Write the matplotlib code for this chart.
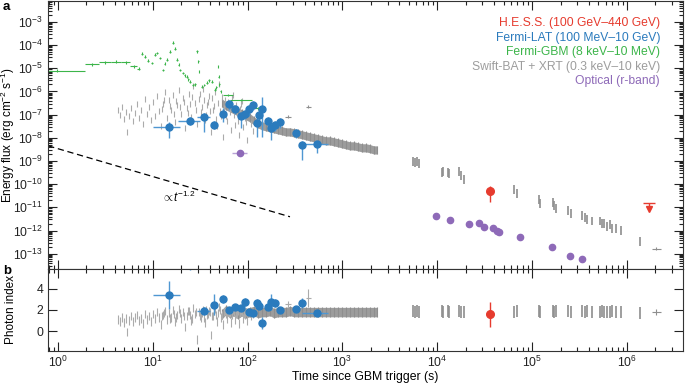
import numpy as np
import matplotlib
matplotlib.use("Agg")
import matplotlib.pyplot as plt
from matplotlib.ticker import LogLocator, NullFormatter

plt.rcParams['font.family'] = ['Liberation Sans', 'DejaVu Sans']
plt.rcParams['mathtext.fontset'] = 'custom'
plt.rcParams['mathtext.rm'] = 'Liberation Sans'
plt.rcParams['mathtext.it'] = 'Liberation Sans:italic'
plt.rcParams['mathtext.bf'] = 'Liberation Sans:bold'
plt.rcParams['axes.linewidth'] = 0.8

# ---- Fermi-LAT (energy flux + photon index) ----
lat_t = [14.8, 24.7, 34.7, 44.2, 55.0, 63.7, 73.6, 85.2, 93.9, 103.5,
         114, 126, 132, 142, 164, 177, 195, 220, 324, 375, 540]
lat_t_lo = [10.0, 18.5, 29.3, 42, 53, 62, 71, 83, 91, 100,
            111, 122, 129, 139, 160, 173, 190, 215, 316, 368, 375]
lat_t_hi = [19.4, 31.5, 40.1, 46, 57, 65, 76, 87, 96, 106,
            117, 129, 135, 145, 168, 181, 199, 225, 332, 382, 705]
lat_f = [2.98e-8, 5.4e-8, 8.0e-8, 3.6e-8, 1.08e-7, 2.9e-7, 1.78e-7, 8.9e-8, 1.08e-7, 1.78e-7,
         2.64e-7, 4.4e-8, 9.8e-8, 1.78e-7, 5.4e-8, 2.7e-8, 3.6e-8, 4.9e-8, 1.64e-8, 5.0e-9, 5.5e-9]
lat_f_hi = [4.9e-8, 8.0e-8, 1.2e-7, 5.4e-8, 1.9e-7, 4.4e-7, 2.64e-7, 1.3e-7, 1.6e-7, 2.64e-7,
            3.9e-7, 7.2e-8, 1.46e-7, 5.9e-7, 8.0e-8, 4.4e-8, 5.4e-8, 7.2e-8, 2.4e-8, 7.5e-9, 7.5e-9]
lat_f_lo = [1.0e-8, 3.6e-8, 1.8e-8, 2.4e-8, 4.9e-8, 1.6e-7, 1.08e-7, 2.7e-8, 6.6e-8, 8.9e-8,
            1.6e-7, 1.1e-8, 5.4e-8, 1.1e-8, 3.3e-8, 8.2e-9, 2.0e-8, 2.7e-8, 1.0e-8, 1.1e-9, 2.2e-9]
lat_index = [3.43, 6.4, 1.95, 2.48, 3.05, 2.0, 2.3, 2.2, 2.76, 1.8,
             1.7, 2.67, 2.38, 0.76, 2.3, 2.76, 2.67, 2.0, 2.1, 2.67, 1.71]
lat_index_err = [1.3, 0.6, 0.35, 1.0, 0.4, 0.3, 0.3, 0.3, 0.4, 0.3,
                 0.3, 0.4, 0.3, 0.55, 0.3, 0.8, 0.4, 0.3, 0.3, 0.5, 0.25]

# ---- Fermi-GBM energy flux (time bins) ----
gbm_t_start = [0.5, 1.93, 2.7, 3.6, 4.6, 5.8, 6.8, 7.5, 8.1, 8.7,
               9.5, 10.2, 10.9, 11.6, 12.5, 13.1, 13.8, 14.9, 16.0, 16.8,
               17.7, 18.5, 19.1, 20.5, 21.5, 22.5, 23.5, 24.3, 26.2, 27.5,
               28.9, 29.7, 30.4, 32.5, 34.5, 36.7, 38.5, 41.0, 44.7, 46.5,
               48.2, 49.2, 50.0, 51.5, 55.0, 65.2, 113]
gbm_t_end = [1.93, 2.7, 3.6, 4.6, 5.8, 6.8, 7.4, 7.9, 8.5, 9.1,
             10.0, 10.7, 11.3, 12.1, 13.0, 13.6, 14.4, 15.5, 16.6, 17.4,
             18.3, 19.0, 19.7, 21.1, 22.1, 23.3, 24.1, 25.1, 27.0, 28.3,
             29.7, 30.4, 31.1, 33.5, 35.5, 37.9, 39.7, 43.2, 45.9, 47.5,
             49.2, 50.0, 50.8, 53.0, 70.2, 111, 145]
gbm_f = [7.8e-6, 1.5e-5, 1.8e-5, 1.95e-5, 1.8e-5, 1.2e-5, 9.5e-6, 4.2e-5, 3.1e-5, 2.1e-5,
         1.7e-5, 3.8e-5, 4.6e-5, 2.8e-5, 8.5e-6, 1.6e-5, 2.3e-5, 5.1e-5, 1.25e-4, 6.9e-5,
         2.3e-5, 1.4e-5, 8.5e-6, 6.3e-6, 5.0e-6, 4.3e-6, 3.4e-6, 2.6e-6, 1.9e-6, 2.0e-6,
         5.5e-5, 2.0e-5, 7.0e-6, 1.6e-6, 1.9e-6, 2.35e-6, 3.0e-6, 2.6e-6, 1.2e-6, 1.5e-6,
         1.15e-5, 4.3e-6, 2.0e-6, 1.0e-6, 7.1e-7, 4.3e-7, 1.85e-7]

# ---- Swift-BAT (early, scattered) ----
bat_t = [4.3, 4.5, 4.7, 5.0, 5.2, 5.35, 5.6, 5.9, 6.2, 6.5,
         6.8, 7.15, 7.5, 7.9, 8.3, 8.7, 9.1, 9.6, 10.0, 10.5,
         11.1, 11.6, 12.2, 12.8, 13.5, 14.1, 14.8, 15.6, 16.3, 17.1,
         18.0, 18.9, 19.8, 20.8, 21.9, 22.9, 24.1, 25.3, 26.6, 27.9,
         29.3, 30.7, 32.2, 33.9, 35.5, 37.3, 39.2, 41.1, 43.2, 45.3,
         47.6, 49.9, 52.4, 55.0, 57.8, 60.6, 63.6, 66.8, 70.2, 73.6,
         77.3, 81.2, 85.2, 89.4, 93.9, 98.6, 103, 109, 114]
bat_f = [1.6e-7, 9.8e-8, 2.2e-7, 6.6e-8, 1.3e-7, 1.8e-8, 8.9e-8, 2.0e-7, 5.4e-8, 1.2e-7,
         2.9e-7, 7.3e-8, 1.6e-7, 4.0e-8, 4.8e-7, 1.08e-7, 2.2e-7, 6.0e-8, 3.6e-7, 8.9e-8,
         6.5e-7, 1.46e-7, 3.3e-8, 2.9e-7, 9.6e-7, 7.3e-8, 4.3e-7, 1.6e-7, 7.1e-7, 4.9e-8,
         2.6e-7, 1.17e-6, 1.08e-7, 5.3e-7, 2.7e-8, 1.96e-7, 7.9e-7, 8.0e-8, 1.74e-6, 3.2e-7,
         4.0e-8, 4.8e-7, 1.32e-7, 1.3e-6, 6.0e-8, 2.6e-7, 6.5e-7, 1.8e-8, 1.6e-7, 9.6e-7,
         3.3e-8, 2.1e-6, 8.9e-8, 1.1e-8, 4.3e-7, 5.4e-8, 1.96e-7, 2.2e-8, 7.1e-7, 3.6e-8,
         1.2e-7, 1.35e-8, 2.9e-7, 3.0e-8, 7.3e-8, 8.2e-9, 1.61e-7, 4.0e-8, 2.0e-8]
bat_index = [1.1, 0.9, 1.3, 0.8, 1.2, -0.1, 1.0, 1.4, 0.9, 1.3,
             1.5, 1.0, 1.2, 0.7, 1.6, 1.1, 1.4, 0.9, 1.6, 1.2,
             1.8, 1.3, 0.6, 1.5, 1.9, 1.1, 1.7, 1.3, 2.0, 0.9,
             1.5, 2.1, 1.2, 1.8, 0.4, 1.4, 1.9, 1.0, 2.2, 1.6,
             -0.8, 1.8, 1.3, 2.0, 0.8, 1.5, 1.9, -0.4, 1.4, 2.1,
             0.9, 2.3, 1.3, 0.6, 1.9, 1.2, 1.7, 0.8, 2.0, 1.1,
             1.6, 0.7, 1.9, 1.2, 1.5, 1.0, 1.8, 1.4, 1.6]
bat2_t = [12.5, 13.1, 15.2, 16.8, 17.5, 19.3, 21.3, 23.5, 24.7, 26.0,
          28.6, 31.4, 33.0, 34.7, 36.4, 38.2, 40.1, 42.1, 44.2, 46.4,
          48.7, 51.2, 53.7, 56.4, 59.2, 62.1, 65.2, 68.5, 71.9, 75.5,
          79.2, 83.2, 87.3, 91.6, 96.2]
bat2_f = [1.8e-7, 4.4e-7, 2.4e-7, 1.1e-7, 4.0e-7, 2.2e-7, 3.6e-7, 1.2e-7, 3.0e-7, 6.0e-7,
          1.6e-7, 8.0e-7, 2.2e-7, 4.4e-7, 1.0e-7, 3.6e-7, 1.5e-7, 5.4e-7, 2.4e-7, 6.6e-8,
          3.3e-7, 1.4e-7, 6.0e-7, 2.0e-7, 9.0e-8, 3.6e-7, 1.3e-7, 5.0e-7, 9.6e-8, 2.7e-7,
          5.4e-8, 1.8e-7, 4.0e-7, 1.1e-7, 5.0e-8]
bat2_index = [1.4, 1.7, 1.2, 1.6, 1.3, 1.7, 1.4, 1.9, 1.5, 1.2,
              1.8, 1.4, 1.7, 1.3, 2.0, 1.6, 1.8, 1.4, 1.9, 1.5,
              1.7, 2.0, 1.5, 1.8, 1.6, 1.9, 1.7, 1.5, 1.8, 1.6,
              1.9, 1.7, 1.8, 1.6, 1.8]

# ---- Swift-XRT (continuous early band) ----
xrt_t = [53.7, 59.2, 65.2, 71.9, 79.2, 87.3, 96.2, 106, 117, 129,
         142, 156, 172, 190, 209, 231, 254, 280, 309, 340,
         375, 413, 455, 502, 553, 609, 671, 740, 815, 899,
         991, 1091, 1202, 1325, 1461, 1610, 1774, 1955, 2154, 2317]
xrt_f = [3.2e-7, 2.4e-7, 1.96e-7, 1.61e-7, 1.32e-7, 1.08e-7, 8.9e-8, 7.3e-8, 5.4e-8, 4.0e-8,
         3.3e-8, 3.0e-8, 2.7e-8, 2.44e-8, 2.2e-8, 2.0e-8, 1.8e-8, 1.8e-8, 1.64e-8, 1.49e-8,
         1.35e-8, 1.22e-8, 1.1e-8, 1.0e-8, 9.1e-9, 8.2e-9, 7.4e-9, 7.4e-9, 6.7e-9, 6.1e-9,
         5.5e-9, 5.0e-9, 4.5e-9, 4.5e-9, 4.1e-9, 3.7e-9, 3.7e-9, 3.4e-9, 3.0e-9, 3.0e-9]
xrt_index = [1.6, 2.0, 1.7, 1.9, 1.6, 1.9, 1.7, 1.8, 1.9, 1.7,
             1.8, 1.8, 1.9, 1.7, 1.8, 1.8, 1.8, 1.9, 1.8, 1.8,
             1.8, 1.8, 1.8, 1.8, 1.8, 1.8, 1.8, 1.8, 1.8, 1.8,
             1.8, 1.8, 1.8, 1.8, 1.8, 1.8, 1.8, 1.8, 1.8, 1.8]

# ---- Swift-XRT (late orbits) ----
late_t = [5.5e3, 5.8e3, 6.1e3, 6.4e3, 1.12e4, 1.16e4, 1.3e4, 1.34e4, 1.7e4, 1.8e4,
          1.9e4, 6.5e4, 6.9e4, 1.18e5, 1.22e5, 1.65e5, 1.72e5, 1.8e5, 2.4e5, 2.6e5,
          3.4e5, 3.6e5, 3.8e5, 4.3e5, 5.2e5, 5.4e5, 5.8e5, 6.2e5, 6.6e5, 6.9e5,
          7.7e5, 8.7e5, 1.38e6]
late_f = [9.5e-10, 8.5e-10, 9.2e-10, 8.0e-10, 3.1e-10, 3.4e-10, 3.1e-10, 2.9e-10, 3.4e-10, 2.3e-10,
          1.55e-10, 5.7e-11, 3.9e-11, 2.1e-11, 1.43e-11, 1.58e-11, 1.17e-11, 8.7e-12, 7.1e-12, 5.3e-12,
          4.3e-12, 3.6e-12, 2.9e-12, 2.6e-12, 2.6e-12, 1.96e-12, 1.96e-12, 1.46e-12, 1.78e-12, 1.2e-12,
          1.2e-12, 9.8e-13, 3.3e-13]
late_index = [1.9, 1.8, 1.9, 1.8, 1.9, 1.8, 1.9, 1.8, 1.9, 1.8,
              1.8, 1.8, 1.9, 1.9, 1.8, 1.9, 1.8, 1.9, 1.9, 1.8,
              1.9, 1.8, 1.9, 1.8, 1.8, 1.9, 1.8, 1.8, 1.8, 1.9,
              1.8, 1.8, 1.7]

# isolated Swift points drawn as crosses
plus_t = [270, 434, 2.04e6]
plus_t_lo = [250, 413, 1.85e6]
plus_t_hi = [290, 470, 2.3e6]
plus_f = [8.1e-8, 2.2e-7, 1.64e-13]
plus_index = [2.57, 3.1, 1.8]
plus_index_err = [0.25, 0.85, 0.3]

# ---- Optical r-band ----
opt_t = [83, 9.7e3, 1.36e4, 2.16e4, 2.76e4, 3.1e4, 3.88e4, 4.27e4, 4.5e4, 7.5e4, 1.62e5, 2.5e5, 3.37e5]
opt_f = [2.2e-9, 4.4e-12, 2.9e-12, 1.96e-12, 2.2e-12, 1.45e-12, 1.3e-12, 1.0e-12, 8.9e-13,
         5.4e-13, 2.0e-13, 8.2e-14, 6.0e-14]

# ---- H.E.S.S. ----
hess_t = [3.6e4]
hess_f = [5.2e-11]
hess_f_lo = [1.7e-11]
hess_f_hi = [8.5e-11]
hess_index = [1.6]
hess_index_lo = [0.38]
hess_index_hi = [2.76]
hess_ul_t = [1.71e6]
hess_ul_f = [1.6e-11]

# power-law guide  F ~ t^-1.2
pl_t = np.array([0.79, 280])
pl_norm = 3.4e-9
pl_slope = -1.2

RED = '#e63b2e'
BLUE = '#2b7bbd'
BLUE_E = '#4f97d2'
GREEN = '#3cb54a'
GREY = '#8e8e8e'
GREY_L = '#ababab'
PURPLE = '#8e6ab8'

fig = plt.figure(figsize=(6.85, 3.83), dpi=100)
ax = fig.add_axes([0.070, 0.2977, 0.927, 0.6997])
axb = fig.add_axes([0.070, 0.0836, 0.927, 0.2141], sharex=ax)


def ferr(f, fac):
    f = np.asarray(f)
    return [f - f / fac, f * fac - f]


# --- panel a ---
ax.fill_between(xrt_t, np.array(xrt_f) / 1.5, np.array(xrt_f) * 1.5, color='#9c9c9c', lw=0)
ax.errorbar(xrt_t, xrt_f, yerr=ferr(xrt_f, 1.55), fmt='none', ecolor=GREY, elinewidth=0.8)
ax.errorbar(bat_t, bat_f, yerr=ferr(bat_f, 1.35), fmt='none', ecolor=GREY_L, elinewidth=0.8)
ax.errorbar(bat2_t, bat2_f, yerr=ferr(bat2_f, 1.35), fmt='none', ecolor=GREY_L, elinewidth=0.8)
ax.errorbar(late_t, late_f, yerr=ferr(late_f, 1.55), fmt='none', ecolor=GREY, elinewidth=1.2)
p_t = np.array(plus_t)
ax.errorbar(plus_t, plus_f, xerr=[p_t - plus_t_lo, np.array(plus_t_hi) - p_t],
            yerr=ferr(plus_f, 1.15), fmt='none', ecolor=GREY, elinewidth=0.8)

g0 = np.array(gbm_t_start)
g1 = np.array(gbm_t_end)
gc = np.sqrt(g0 * g1)
ax.errorbar(gc, gbm_f, xerr=[gc - g0, g1 - gc], yerr=ferr(gbm_f, 1.15),
            fmt='none', ecolor=GREEN, elinewidth=0.8)

lt = np.array(lat_t)
lf = np.array(lat_f)
ax.errorbar(lat_t, lat_f, xerr=[lt - lat_t_lo, np.array(lat_t_hi) - lt],
            yerr=[lf - lat_f_lo, np.array(lat_f_hi) - lf], fmt='o', ms=5,
            color=BLUE, ecolor=BLUE_E, elinewidth=1, capsize=0)

ax.errorbar(opt_t[:1], opt_f[:1], xerr=[[83 - 68], [99 - 83]], fmt='o', ms=4.5,
            color=PURPLE, ecolor='#b8a3d6', elinewidth=1)
ax.plot(opt_t[1:], opt_f[1:], 'o', ms=4.5, color=PURPLE, ls='none')

hf = np.array(hess_f)
ax.errorbar(hess_t, hess_f, yerr=[hf - hess_f_lo, np.array(hess_f_hi) - hf], fmt='o',
            ms=5.5, color=RED, ecolor=RED, elinewidth=1)
ul = np.array(hess_ul_f)
ax.errorbar(hess_ul_t, hess_ul_f, yerr=[ul - ul * 0.55, ul * 0], fmt='none',
            ecolor=RED, elinewidth=1)
ax.plot(hess_ul_t, hess_ul_f, marker='_', ms=8, mew=1, color=RED, ls='none')
ax.plot(hess_ul_t, ul * 0.55, marker='v', ms=5, color=RED, ls='none')

ax.plot(pl_t, pl_norm * pl_t ** pl_slope, color='black', lw=0.9, ls=(0, (5, 3)))
ax.text(12.4, 2.6e-11, r'$\propto\!t^{-1.2}$', fontsize=8.5, ha='left', va='center')

ax.set_xscale('log')
ax.set_yscale('log')
ax.set_xlim(0.785, 3.9e6)
ax.set_ylim(2.2e-14, 8e-3)
ax.set_ylabel('Energy flux (erg cm$^{-2}$ s$^{-1}$)', fontsize=8.5)
ax.yaxis.set_label_coords(-0.049, 0.5)

legend_items = [('H.E.S.S. (100 GeV\u2013440 GeV)', RED),
                ('Fermi-LAT (100 MeV\u201310 GeV)', BLUE),
                ('Fermi-GBM (8 keV\u201310 MeV)', GREEN),
                ('Swift-BAT + XRT (0.3 keV\u201310 keV)', '#9d9d9d'),
                ('Optical (r-band)', PURPLE)]
for i, (lab, c) in enumerate(legend_items):
    ax.text(0.964, 0.918 - 0.0545 * i, lab, color=c, fontsize=8.7,
            transform=ax.transAxes, ha='right', va='center')

# --- panel b ---
axb.fill_between(xrt_t, np.array(xrt_index) - 0.45, np.array(xrt_index) + 0.45,
                 color='#9c9c9c', lw=0)
axb.errorbar(xrt_t, xrt_index, yerr=0.5, fmt='none', ecolor=GREY, elinewidth=0.8)
axb.errorbar(bat_t, bat_index, yerr=0.4, fmt='none', ecolor=GREY_L, elinewidth=0.8)
axb.errorbar(bat2_t, bat2_index, yerr=0.4, fmt='none', ecolor=GREY_L, elinewidth=0.8)
axb.errorbar(late_t, late_index, yerr=0.6, fmt='none', ecolor=GREY, elinewidth=1.2)
axb.errorbar(plus_t[:2], plus_index[:2], xerr=[p_t[:2] - plus_t_lo[:2], np.array(plus_t_hi[:2]) - p_t[:2]],
             yerr=plus_index_err[:2], fmt='none', ecolor=GREY_L, elinewidth=0.8)
axb.errorbar(plus_t[2:], plus_index[2:], xerr=[p_t[2:] - plus_t_lo[2:], np.array(plus_t_hi[2:]) - p_t[2:]],
             yerr=plus_index_err[2:], fmt='none', ecolor=GREY, elinewidth=0.8)
axb.errorbar(lat_t, lat_index, xerr=[lt - lat_t_lo, np.array(lat_t_hi) - lt],
             yerr=lat_index_err, fmt='o', ms=5, color=BLUE, ecolor=BLUE_E, elinewidth=1)
hi = np.array(hess_index)
axb.errorbar(hess_t, hess_index, yerr=[hi - hess_index_lo, np.array(hess_index_hi) - hi],
             fmt='o', ms=5.5, color=RED, ecolor=RED, elinewidth=1)

axb.set_ylim(-1.9, 5.9)
axb.set_yticks([0, 2, 4])
axb.set_ylabel('Photon index', fontsize=8.5)
axb.yaxis.set_label_coords(-0.049, 0.5)
axb.set_xlabel('Time since GBM trigger (s)', fontsize=8.8, labelpad=1)

for a in (ax, axb):
    a.xaxis.set_major_locator(LogLocator(base=10, numticks=30))
    a.xaxis.set_minor_locator(LogLocator(base=10, subs=np.arange(2, 10), numticks=30))
    a.xaxis.set_minor_formatter(NullFormatter())
    a.tick_params(which='both', direction='in', top=True, right=True, width=0.8,
                  labelsize=8.8, colors='#222222')
    a.tick_params(which='major', length=6.5)
    a.tick_params(which='minor', length=3)
    for s in a.spines.values():
        s.set_color('#333333')

ax.yaxis.set_major_locator(LogLocator(base=10, numticks=30))
ax.yaxis.set_minor_locator(LogLocator(base=10, subs=np.arange(2, 10), numticks=30))
ax.yaxis.set_minor_formatter(NullFormatter())
ax.tick_params(labelbottom=False)
axb.tick_params(axis='x', pad=2.5)

fig.text(0.004, 0.982, 'a', fontsize=9.5, fontweight='bold', va='center')
fig.text(0.004, 0.293, 'b', fontsize=9.5, fontweight='bold', va='center')

fig.savefig('out.png', dpi=100)
